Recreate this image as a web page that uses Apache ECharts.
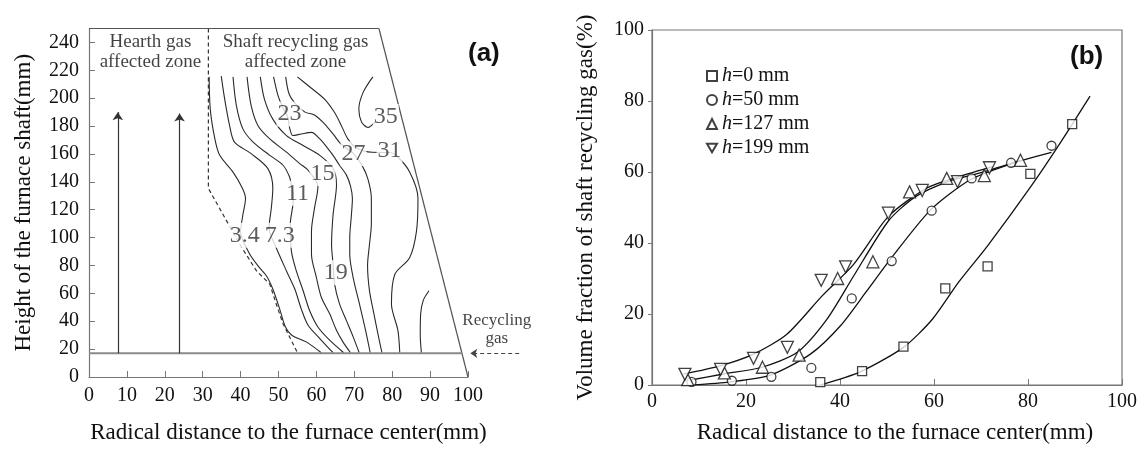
<!DOCTYPE html>
<html>
<head>
<meta charset="utf-8">
<script src="https://cdn.jsdelivr.net/npm/echarts@6/dist/echarts.min.js"></script>
<style>
  html, body { margin: 0; padding: 0; background: #fff; }
  #chart { width: 1143px; height: 449px; }
</style>
</head>
<body>
<div id="chart"></div>
<script>
// ---------- panel (a): contour sketch, data units (mm) ----------
const c3_4 = [[31.7,215.3],[32,192],[33.2,171],[34.5,159],[38,147],[40.5,135.3],[41.3,128],[40.6,116.4],[40,104],[42.2,89.2],[44.6,79.7],[46.8,72.6],[48.5,63.1],[50.3,48.9],[51.8,36],[53.5,30],[57.3,25.2],[61.3,17.4]];
const c7_3 = [[34.9,215.8],[35.8,199.3],[37.1,180.3],[38.4,168.5],[42.8,160.2],[47.2,149.5],[48.5,135.3],[48.1,121.1],[47.5,106.9],[49.4,92.7],[52.1,76.1],[54.3,63.1],[56,48.9],[57.8,37.1],[60.9,27.6],[64.4,17.4]];
const c11 = [[38,215.3],[38.9,194.5],[40.6,178],[43.3,168.5],[47.7,159],[51.2,151.9],[52.9,143.6],[53.4,137.7],[54,131],[53.8,123.5],[53.1,109.3],[53.4,90.3],[54.7,76.1],[56.5,61.9],[58.2,47.7],[60.4,35.9],[63.5,26.4],[67.2,17.4]];
const c15 = [[41.7,215.3],[42.8,194.5],[44.6,180.3],[47.7,170.8],[52.1,161.3],[55.6,153.1],[57.8,148.3],[60.4,136.5],[59.5,121.1],[58.7,104.5],[58.7,88],[60,71.4],[61.3,57.2],[63.5,45.3],[65.3,33.5],[67,25.2],[69,17.4]];
const c19 = [[45.2,215.3],[46.3,199.2],[48.5,185],[52.1,173.2],[56.5,166.1],[60.9,159],[64.4,149.5],[65.3,137.7],[64.4,116.4],[64,95.1],[64.4,80.9],[64.8,66.6],[66.1,52.4],[67.9,40.6],[69.7,28.8],[71.3,17.4]];
const c23 = [[48.7,215.3],[49.9,201.6],[51,194],[52.5,186],[52.9,179.1],[53.8,173.2],[56,174.3],[58.7,175.5],[60.9,170.8],[63.1,163.7],[64.4,159],[66.1,151.9],[67.9,145],[69,137],[69.5,128],[69.2,115],[68.8,100],[68.8,88],[69.8,70],[71.4,52],[72.6,38],[73.4,28],[74.2,17.4]];
const c27 = [[51.9,215.3],[52.8,203],[54.5,196],[57,190],[59.5,188],[62,182],[64.5,174],[66.5,167],[69.8,160.2],[72,152],[73.6,142],[74.5,128],[74.5,110],[74,95],[73.5,80],[74,62],[75.2,45],[76.3,30],[77.3,17.4]];
const c31 = [[55,215.3],[58.2,208.2],[62.2,199.2],[64.8,189.7],[66.6,180.3],[68.3,170.8],[70.5,164.5],[74.7,161.2],[79.3,161],[81.1,158.9],[84.6,147.1],[86.8,128.2],[86.4,104.5],[84.6,85.6],[80.7,73.7],[79.8,52.4],[81.5,33.5],[82,17.4]];
const c35top = [[74.9,215.3],[72.3,204],[71.2,192],[71.9,183],[73.6,179],[75.5,183]];
const c35low = [[89.7,61.9],[88.2,55],[87.5,45],[87.4,30],[87.7,17.4]];
const contourLabels = [['3.4',41.1,101.7],['7.3',50.3,101.7],['11',55,131.8],['15',61.6,146],['19',65.1,74.9],['23',52.9,188.6],['27',69.8,160.2],['31',79.3,162.5],['35',78.3,186.9]];

const zoneBorder = [[31.5,250],[31.5,135.3],[35.4,116.4],[39.8,95.1],[44.2,76.1],[47.7,66.6],[49.4,52.4],[51.2,38.2],[53.8,24],[55,17.4]];
const shaftTop = [[0,250],[76.5,250]];
const shaftWall = [[76.5,250],[100,0]];
const inletLine = [[0,17],[98.4,17]];
const gasArrows = [[[7.6,17],[7.6,190]],[[23.9,17],[23.9,189]]];
const recycleArrow = [[113.5,17],[100.6,17]];

// ---------- panel (b): volume fraction (%) vs radius (mm) ----------
const seriesNames = ['h=0 mm','h=50 mm','h=127 mm','h=199 mm'];
const pts0 = [[35.8,0.8],[44.7,3.9],[53.5,10.8],[62.4,27.2],[71.4,33.4],[80.5,59.5],[89.4,73.5]];
const pts50 = [[8.4,0.9],[17,1.2],[25.4,2.3],[33.9,4.8],[42.5,24.4],[51,34.9],[59.5,49.1],[68,58.2],[76.4,62.6],[85,67.4]];
const pts127 = [[7.6,1.5],[15.4,3.4],[23.5,5],[31.3,8.4],[39.5,30],[47,34.7],[54.8,54.4],[62.7,58.2],[70.7,59],[78.4,63.3]];
const pts199 = [[7,3],[14.6,4.4],[21.6,7.5],[28.8,10.6],[36,29.5],[41.2,33.3],[50.3,48.4],[57.5,54.8],[65,57.3],[71.8,61.2]];
const fit0 = [[35.8,0],[44.3,3.7],[53.5,10.6],[59.7,18.6],[65.2,28.9],[71.4,39.2],[80.7,56.1],[86.9,68.3],[93.2,81.4]];
const fit50 = [[8.5,0],[16.7,0.9],[25.2,2.8],[33.7,8.7],[40.1,16.7],[45.7,26.5],[50.7,35.4],[59.2,49.2],[67.7,57.8],[76.2,62.2],[85,65.5]];
const fit127 = [[7.4,1.2],[15.2,3.1],[23.4,5],[30.9,9.2],[37.2,18.5],[42.9,30.7],[50.3,46.2],[56,53],[63,57.3],[70,59.8],[78.4,63.3]];
const fit199 = [[6.7,3.1],[14.5,5.4],[21.6,8.7],[28.7,14.3],[36.2,25.1],[42.9,34],[50.3,47.5],[58.5,55.5],[65.6,58.8],[72.5,61.5]];

const serif = 'Liberation Serif';
const ink = '#111';
const axisGrey = '#777';

let chart = echarts.init(document.getElementById('chart'));

function axisCommon(extra) {
  return Object.assign({
    type: 'value',
    splitLine: { show: false },
    axisLine: { show: true, lineStyle: { color: axisGrey, width: 1.2 } },
    axisLabel: { color: ink, fontFamily: serif, fontSize: 20 },
    nameTextStyle: { color: ink, fontFamily: serif, fontSize: 23 },
    nameLocation: 'middle'
  }, extra);
}

// contour lines of (a)
let contourSeries = [c3_4, c7_3, c11, c15, c19, c23, c27, c31, c35top, c35low].map(d => ({
  type: 'line', xAxisIndex: 0, yAxisIndex: 0, data: d, showSymbol: false, smooth: 0.3,
  silent: true, z: 2, lineStyle: { color: '#2a2a2a', width: 1.1 }
}));

function plainLine(d, style) {
  return { type: 'line', xAxisIndex: 0, yAxisIndex: 0, data: d, showSymbol: false,
    silent: true, clip: false, z: 3, lineStyle: style };
}

function textMarks(items, size) {
  return {
    type: 'scatter', xAxisIndex: 0, yAxisIndex: 0, symbolSize: 0, silent: true, clip: false, z: 6,
    itemStyle: { color: 'transparent' },
    data: items.map(t => ({ value: [t[1], t[2]], label: { formatter: t[0] } })),
    label: { show: true, position: 'inside', color: ink, fontFamily: serif, fontSize: size,
      lineHeight: size + 1, align: 'center' }
  };
}

let labelSeries = textMarks(contourLabels, 24);
labelSeries.label.backgroundColor = '#fff';
labelSeries.label.padding = [0, 1];
labelSeries.label.color = '#333';

// (b) markers + fitted curves
const downTriangle = 'path://M0,0 L12,0 L6,10.4 Z';
const symbols = ['rect', 'circle', 'triangle', downTriangle];
const sizes = [9, 9, 12, 12];
let scatterSeries = [pts0, pts50, pts127, pts199].map((d, i) => ({
  name: seriesNames[i], type: 'scatter', xAxisIndex: 1, yAxisIndex: 1, data: d,
  symbol: symbols[i], symbolSize: sizes[i], z: 4,
  itemStyle: { color: '#fff', borderColor: ink, borderWidth: 1.3 }
}));
let fitSeries = [fit0, fit50, fit127, fit199].map(d => ({
  type: 'line', xAxisIndex: 1, yAxisIndex: 1, data: d, showSymbol: false, smooth: 0.25,
  silent: true, z: 3, lineStyle: { color: ink, width: 1.3 }
}));

chart.setOption({
  animation: false,
  backgroundColor: '#fff',
  grid: [
    { left: 89, top: 28.5, width: 379, height: 352 },
    { left: 652, top: 30, width: 470, height: 356, show: true, borderColor: axisGrey, borderWidth: 1.2 }
  ],
  xAxis: [
    axisCommon({ gridIndex: 0, min: 0, max: 100, interval: 10,
      name: 'Radical distance to the furnace center(mm)', nameGap: 44,
      nameTextStyle: { color: ink, fontFamily: serif, fontSize: 23, padding: [0, 0, 0, 20] },
      axisTick: { inside: true, length: 6, lineStyle: { color: axisGrey } },
      axisLabel: { color: ink, fontFamily: serif, fontSize: 20, margin: 9 } }),
    axisCommon({ gridIndex: 1, min: 0, max: 100, interval: 20,
      name: 'Radical distance to the furnace center(mm)', nameGap: 36,
      nameTextStyle: { color: ink, fontFamily: serif, fontSize: 23, padding: [0, 0, 0, 16] },
      axisTick: { inside: true, length: 6, lineStyle: { color: axisGrey } },
      axisLabel: { color: ink, fontFamily: serif, fontSize: 20, margin: 7 } })
  ],
  yAxis: [
    axisCommon({ gridIndex: 0, min: 0, max: 250, interval: 20,
      name: 'Height of the furnace shaft(mm)', nameGap: 54,
      axisTick: { inside: true, length: 6, lineStyle: { color: axisGrey } },
      axisLabel: { color: ink, fontFamily: serif, fontSize: 20, margin: 10, showMaxLabel: false,
        formatter: v => (v > 240 ? '' : v) } }),
    axisCommon({ gridIndex: 1, min: 0, max: 100, interval: 20,
      name: 'Volume fraction of shaft recycling gas(%)', nameGap: 55,
      axisTick: { inside: false, length: 4, lineStyle: { color: axisGrey } },
      axisLabel: { color: ink, fontFamily: serif, fontSize: 20, margin: 8 } })
  ],
  legend: {
    data: seriesNames, orient: 'vertical', left: 701, top: 61,
    itemWidth: 10, itemHeight: 10, itemGap: 4, selectedMode: false,
    formatter: name => '{i|h}' + name.slice(1),
    textStyle: { color: ink, fontFamily: serif, fontSize: 20, lineHeight: 20,
      rich: { i: { fontStyle: 'italic', fontFamily: serif, fontSize: 20, lineHeight: 20 } } }
  },
  graphic: [
    { type: 'text', left: 468, top: 41, style: { text: '(a)', font: 'bold 26px "Liberation Sans"', fill: '#111' } },
    { type: 'text', left: 1070, top: 44, style: { text: '(b)', font: 'bold 26px "Liberation Sans"', fill: '#111' } }
  ],
  series: [
    ...contourSeries,
    plainLine(zoneBorder, { color: '#333', width: 1.2, type: [4, 3] }),
    plainLine(shaftTop, { color: '#555', width: 1.2 }),
    plainLine(shaftWall, { color: '#555', width: 1.2 }),
    plainLine(inletLine, { color: '#8a8a8a', width: 2 }),
    {
      type: 'lines', coordinateSystem: 'cartesian2d', xAxisIndex: 0, yAxisIndex: 0,
      silent: true, clip: false, z: 4, symbol: ['none', 'arrow'], symbolSize: 8,
      lineStyle: { color: '#333', width: 1.2, opacity: 1 },
      data: gasArrows.map(c => ({ coords: c }))
    },
    {
      type: 'lines', coordinateSystem: 'cartesian2d', xAxisIndex: 0, yAxisIndex: 0,
      silent: true, clip: false, z: 4, symbol: ['none', 'arrow'], symbolSize: 7,
      lineStyle: { color: '#444', width: 1.2, type: [4, 3], opacity: 1 },
      data: [{ coords: recycleArrow }]
    },
    labelSeries,
    textMarks([['Hearth gas\naffected zone', 16.2, 233], ['Shaft recycling gas\naffected zone', 54.5, 233]], 19),
    textMarks([['Recycling\ngas', 107.6, 34.4]], 17),
    ...fitSeries,
    ...scatterSeries
  ]
});
</script>
</body>
</html>
